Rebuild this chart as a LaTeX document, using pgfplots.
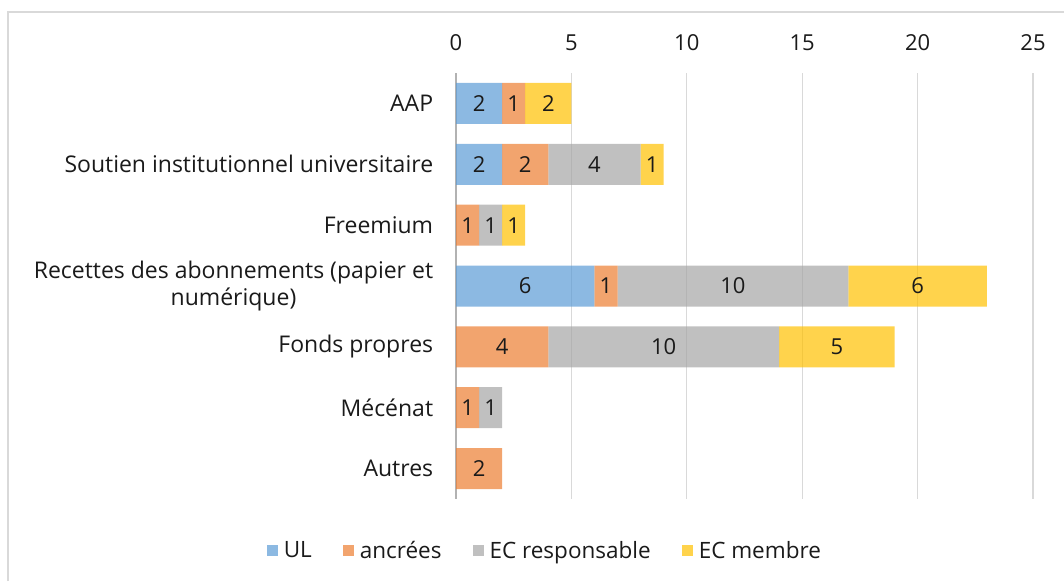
\documentclass[border=0pt]{standalone}
\usepackage{pgfplots}
\pgfplotsset{compat=1.18}
\usepackage{fontspec}
\setmainfont{Open Sans}
\definecolor{cUL}{HTML}{5B9BD5}
\definecolor{cAN}{HTML}{ED7D31}
\definecolor{cER}{HTML}{A5A5A5}
\definecolor{cEM}{HTML}{FFC000}
\definecolor{frame}{HTML}{D9D9D9}
\definecolor{txt}{HTML}{1A1A1A}
\begin{document}
\fontsize{20}{24}\selectfont
\begin{tikzpicture}[x=1pt,y=1pt]
\useasboundingbox (0,0) rectangle (1064,581);
\draw[color=frame, line width=1.5pt] (8,0) -- (8,569) -- (1064,569);
\begin{axis}[
  at={(456pt,82pt)}, anchor=south west,
  scale only axis, width=577pt, height=426pt,
  xbar stacked, bar width=41pt,
  xmin=0, xmax=25, ymin=-0.5, ymax=6.5, y dir=reverse,
  /pgf/number format/assume math mode=true,
  ytick={0,...,6},
  yticklabels={AAP, Soutien institutionnel universitaire, Freemium, {\shortstack{Recettes des abonnements (papier et\\numérique)}}, Fonds propres, Mécénat, Autres},
  yticklabel style={anchor=east, xshift=-16pt, text=txt, font=\fontsize{23}{25}\selectfont},
  xtick={0,5,...,25},
  xticklabel pos=upper,
  xticklabel style={text=txt, font=\fontsize{22}{24}\selectfont, yshift=15pt},
  axis x line*=top, axis y line*=left,
  x axis line style={draw=none},
  y axis line style={draw=black!30, line width=1.5pt},
  major tick length=0pt,
  xmajorgrids, grid style={draw=frame, line width=1.2pt},
  nodes near coords={\pgfmathfloatifflags{\pgfplotspointmeta}{0}{}{\pgfmathprintnumber{\pgfplotspointmeta}}},
  every node near coord/.append style={text=txt, text opacity=1, font=\fontsize{22}{24}\selectfont},
  legend style={at={(0.154,-0.122)}, anchor=center, draw=none, fill=none, legend columns=4,
    font=\fontsize{22.5}{26}\selectfont, text=txt,
    /tikz/every odd column/.append style={column sep=4pt},
    /tikz/every even column/.append style={column sep=29pt}},
  legend image code/.code={\fill[#1] (0pt,-5.5pt) rectangle (11pt,5.5pt);},
]
\addplot[fill=cUL, fill opacity=0.7, draw=none] coordinates {(2,0) (2,1) (0,2) (6,3) (0,4) (0,5) (0,6)};
\addplot[fill=cAN, fill opacity=0.7, draw=none] coordinates {(1,0) (2,1) (1,2) (1,3) (4,4) (1,5) (2,6)};
\addplot[fill=cER, fill opacity=0.7, draw=none] coordinates {(0,0) (4,1) (1,2) (10,3) (10,4) (1,5) (0,6)};
\addplot[fill=cEM, fill opacity=0.7, draw=none] coordinates {(2,0) (1,1) (1,2) (6,3) (5,4) (0,5) (0,6)};
\legend{UL, ancrées, EC responsable, EC membre}
\end{axis}
\end{tikzpicture}
\end{document}
